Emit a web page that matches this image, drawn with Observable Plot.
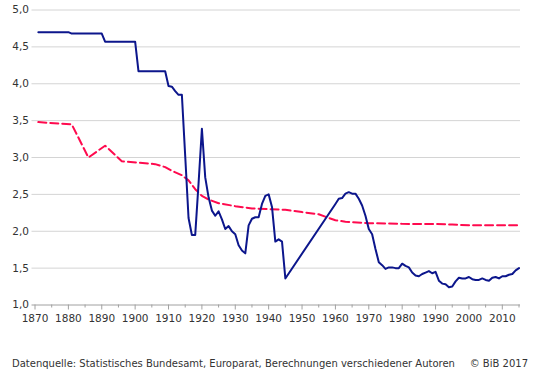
<!DOCTYPE html>
<html>
<head>
<meta charset="utf-8">
<script src="https://cdn.jsdelivr.net/npm/d3@7"></script>
<script src="https://cdn.jsdelivr.net/npm/@observablehq/plot@0.6"></script>
<style>
  body { margin: 0; background: #fff; font-family: "DejaVu Sans", Verdana, sans-serif; }
  #wrap { width: 540px; height: 374px; position: relative; overflow: hidden; }
  #caption { position: absolute; top: 358px; left: 0; width: 540px; font-size: 10px; color: #333; }
  #caption .l { position: absolute; left: 12px; white-space: nowrap; }
  #caption .r { position: absolute; right: 12px; white-space: nowrap; }
</style>
</head>
<body>
<div id="wrap">
  <div id="chart"></div>
  <div id="caption"><span class="l">Datenquelle: Statistisches Bundesamt, Europarat, Berechnungen verschiedener Autoren</span><span class="r">© BiB 2017</span></div>
</div>
<script>
// Total fertility rate (blue solid line)
const tfrYears = [
  1871,1872,1873,1874,1875,1876,1877,1878,1879,1880,
  1881,1882,1883,1884,1885,1886,1887,1888,1889,1890,
  1891,1892,1893,1894,1895,1896,1897,1898,1899,1900,
  1901,1902,1903,1904,1905,1906,1907,1908,1909,
  1910,1911,1912,1913,1914,1915,1916,1917,1918,1919,
  1920,1921,1922,1923,1924,1925,1926,1927,1928,1929,
  1930,1931,1932,1933,1934,1935,1936,1937,1938,1939,
  1940,1941,1942,1943,1944,1945,
  1960,1961,1962,1963,1964,1965,1966,1967,1968,1969,
  1970,1971,1972,1973,1974,1975,1976,1977,1978,1979,
  1980,1981,1982,1983,1984,1985,1986,1987,1988,1989,
  1990,1991,1992,1993,1994,1995,1996,1997,1998,1999,
  2000,2001,2002,2003,2004,2005,2006,2007,2008,2009,
  2010,2011,2012,2013,2014,2015
];
const tfrValues = [
  4.70,4.70,4.70,4.70,4.70,4.70,4.70,4.70,4.70,4.70,
  4.68,4.68,4.68,4.68,4.68,4.68,4.68,4.68,4.68,4.68,
  4.57,4.57,4.57,4.57,4.57,4.57,4.57,4.57,4.57,4.57,
  4.17,4.17,4.17,4.17,4.17,4.17,4.17,4.17,4.17,
  3.97,3.96,3.90,3.85,3.85,3.02,2.18,1.95,1.95,2.65,
  3.39,2.73,2.46,2.28,2.21,2.27,2.16,2.03,2.07,2.00,
  1.96,1.81,1.74,1.70,2.08,2.17,2.19,2.19,2.37,2.48,
  2.50,2.33,1.86,1.89,1.86,1.36,
  2.37,2.44,2.45,2.51,2.53,2.51,2.51,2.44,2.35,2.21,
  2.03,1.96,1.76,1.58,1.54,1.49,1.51,1.51,1.50,1.50,
  1.56,1.53,1.51,1.44,1.40,1.39,1.42,1.44,1.46,1.43,
  1.45,1.33,1.29,1.28,1.24,1.25,1.32,1.37,1.36,1.36,
  1.38,1.35,1.34,1.34,1.36,1.34,1.33,1.37,1.38,1.36,
  1.39,1.39,1.41,1.42,1.47,1.50
];
// Replacement level (red dashed line)
const refYears = [1871,1881,1886,1891,1896,1901,1906,1909,1911,1914,1916,1918,1920,1922,1925,1930,1935,1940,1945,1950,1955,1958,1960,1963,1970,1980,1990,1995,2000,2010,2015];
const refValues = [3.48,3.45,3.00,3.16,2.95,2.93,2.91,2.87,2.82,2.76,2.69,2.57,2.48,2.43,2.38,2.34,2.31,2.30,2.29,2.26,2.23,2.18,2.15,2.13,2.11,2.10,2.10,2.09,2.08,2.08,2.08];

const yTicks = [1.0,1.5,2.0,2.5,3.0,3.5,4.0,4.5,5.0];
const xLabelYears = [1870,1880,1890,1900,1910,1920,1930,1940,1950,1960,1970,1980,1990,2000,2010];
const xMinorYears = [1875,1885,1895,1905,1915,1925,1935,1945,1955,1965,1975,1985,1995,2005,2015];

const tfr = tfrYears.map((year, i) => ({year, value: tfrValues[i]}));
const ref = refYears.map((year, i) => ({year, value: refValues[i]}));

const chart = Plot.plot({
  width: 540,
  height: 330,
  marginLeft: 34.5,
  marginRight: 21.5,
  marginTop: 9.5,
  marginBottom: 25.5,
  style: {fontFamily: '"DejaVu Sans", Verdana, sans-serif', fontSize: "10.5px", color: "#333", background: "#fff"},
  x: {domain: [1870, 2015]},
  y: {domain: [1, 5]},
  marks: [
    Plot.ruleY(yTicks.filter(d => d > 1), {stroke: "#d4d4d4", strokeWidth: 1, insetLeft: -3, insetRight: -1.5}),
    Plot.axisY({ticks: yTicks, tickFormat: d => d.toFixed(1).replace(".", ","), tickSize: 0, tickPadding: 6, label: null}),
    Plot.ruleY([1], {stroke: "#a0a0a0", strokeWidth: 1, insetLeft: -3, insetRight: -1.5}),
    Plot.axisX({ticks: xLabelYears, tickFormat: "d", tickSize: 5, tickPadding: 5, stroke: "#a0a0a0", label: null}),
    Plot.axisX({ticks: xMinorYears, tickSize: 3, text: null, stroke: "#a0a0a0", label: null}),
    Plot.line(ref, {x: "year", y: "value", stroke: "#ff0a4e", strokeWidth: 2, strokeDasharray: "8,4"}),
    Plot.line(tfr, {x: "year", y: "value", stroke: "#0c168c", strokeWidth: 2})
  ]
});
document.getElementById("chart").appendChild(chart);
</script>
</body>
</html>
